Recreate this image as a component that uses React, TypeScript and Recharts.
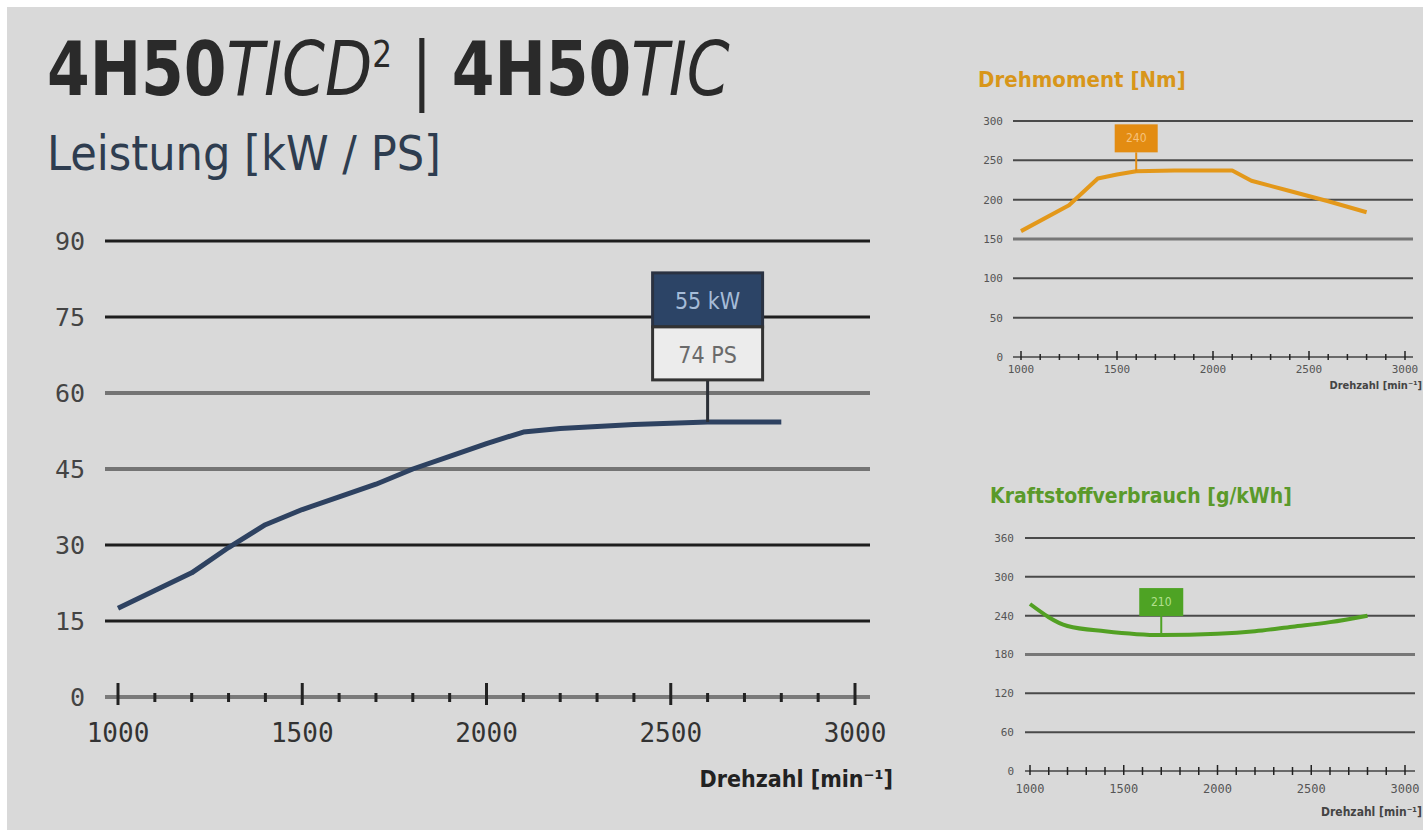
import React from "react";
import { LineChart, Line, XAxis, YAxis, ReferenceLine, ReferenceDot } from "recharts";

// shared rpm axis (minor every 100, labels every 500)
const rpmTicks = [
  1000, 1100, 1200, 1300, 1400, 1500, 1600, 1700, 1800, 1900, 2000,
  2100, 2200, 2300, 2400, 2500, 2600, 2700, 2800, 2900, 3000,
];

// Leistung
const powerRpm = [1000, 1100, 1200, 1300, 1400, 1500, 1600, 1700, 1800, 1900, 2000, 2100, 2200, 2400, 2600, 2800];
const powerKw = [17.5, 21, 24.5, 29.5, 34, 37, 39.5, 42, 45, 47.5, 50, 52.3, 53, 53.8, 54.3, 54.3];
const kwTicks = [0, 15, 30, 45, 60, 75, 90];
const psTicks = [0, 20, 40, 60, 80, 100, 120];
const powerPeakRpm = 2600;
const powerPeakLabels = ["55 kW", "74 PS"];

// Drehmoment
const torqueRpm = [1000, 1250, 1400, 1500, 1600, 1800, 2000, 2100, 2200, 2400, 2600, 2800];
const torqueNm = [160, 193, 227, 232, 236, 237, 237, 237, 224, 211, 198, 184];
const nmTicks = [0, 50, 100, 150, 200, 250, 300];
const torquePeakRpm = 1600;
const torquePeakLabel = "240";

// Kraftstoffverbrauch
const fuelRpm = [1000, 1200, 1400, 1700, 2000, 2200, 2400, 2600, 2800];
const fuelGkwh = [258, 224, 216, 210, 212, 216, 223, 230, 240];
const gkwhTicks = [0, 60, 120, 180, 240, 300, 360];
const fuelPeakRpm = 1700;
const fuelPeakLabel = "210";

const MONO = "'DejaVu Sans Mono', monospace";
const COND = "'DejaVu Sans Condensed', 'DejaVu Sans', sans-serif";

const powerData = powerRpm.map((rpm, i) => ({ rpm, kw: powerKw[i] }));
const torqueData = torqueRpm.map((rpm, i) => ({ rpm, nm: torqueNm[i] }));
const fuelData = fuelRpm.map((rpm, i) => ({ rpm, g: fuelGkwh[i] }));

type TickOpts = {
  majorUp: number;
  majorDown: number;
  minorUp: number;
  minorDown: number;
  width: number;
  labelDy: number;
  fontSize: number;
  color: string;
};

const makeRpmTick = (o: TickOpts) => (props: any) => {
  const { x, y, payload } = props;
  const major = payload.value % 500 === 0;
  return (
    <g>
      <line
        x1={x}
        x2={x}
        y1={y - (major ? o.majorUp : o.minorUp)}
        y2={y + (major ? o.majorDown : o.minorDown)}
        stroke="#222"
        strokeWidth={o.width}
      />
      {major && (
        <text x={x} y={y + o.labelDy} textAnchor="middle" fontSize={o.fontSize} fontFamily={MONO} fill={o.color}>
          {payload.value}
        </text>
      )}
    </g>
  );
};

const smallFlag = (label: string, fill: string, textFill: string, w: number) => (props: any) => {
  const { cx, cy } = props;
  return (
    <g>
      <line x1={cx} x2={cx} y1={cy - 19} y2={cy} stroke={fill} strokeWidth={2} />
      <rect x={cx - w / 2} y={cy - 47} width={w} height={28} fill={fill} />
      <text x={cx} y={cy - 29} textAnchor="middle" fontSize={12} fontFamily={COND} fill={textFill}>
        {label}
      </text>
    </g>
  );
};

const powerFlag = (props: any) => {
  const { cx, cy } = props;
  return (
    <g>
      <line x1={cx} x2={cx} y1={cy - 42} y2={cy} stroke="#2b2f36" strokeWidth={3} />
      <rect x={cx - 55} y={cy - 149} width={110} height={54} fill="#2c4466" stroke="#2a3242" strokeWidth={3} />
      <rect x={cx - 55} y={cy - 95} width={110} height={53} fill="#ececec" stroke="#333" strokeWidth={3} />
      <text x={cx} y={cy - 113} textAnchor="middle" fontSize={23} fontFamily={COND} fill="#a6bcd8">
        {powerPeakLabels[0]}
      </text>
      <text x={cx} y={cy - 59} textAnchor="middle" fontSize={23} fontFamily={COND} fill="#6a6a6a">
        {powerPeakLabels[1]}
      </text>
    </g>
  );
};

function PowerChart() {
  const peakKw = powerKw[powerRpm.indexOf(powerPeakRpm)];
  return (
    <LineChart width={952} height={600} data={powerData} margin={{ top: 41, right: 0, bottom: 0, left: 0 }}>
      <XAxis
        dataKey="rpm"
        type="number"
        domain={[1000, 3000]}
        ticks={rpmTicks}
        interval={0}
        padding={{ left: 13, right: 15 }}
        height={103}
        tickSize={0}
        tickMargin={0}
        tickLine={false}
        axisLine={{ stroke: "#7a7a7a", strokeWidth: 4 }}
        tick={makeRpmTick({ majorUp: 14, majorDown: 8, minorUp: 4, minorDown: 5, width: 3, labelDy: 45, fontSize: 26, color: "#333" })}
      />
      <YAxis
        yAxisId="kw"
        domain={[0, 90]}
        ticks={kwTicks}
        interval={0}
        width={97}
        tickSize={0}
        tickMargin={20}
        tickLine={false}
        axisLine={false}
        tick={{ fontSize: 25, fontFamily: MONO, fill: "#444" }}
      />
      <YAxis
        yAxisId="ps"
        orientation="right"
        domain={[0, 120]}
        ticks={psTicks}
        interval={0}
        width={90}
        tickSize={0}
        tickMargin={17}
        tickLine={false}
        axisLine={false}
        tick={{ fontSize: 25, fontFamily: MONO, fill: "#444" }}
      />
      {kwTicks
        .filter((v) => v > 0)
        .map((v) => (
          <ReferenceLine
            key={v}
            yAxisId="kw"
            y={v}
            stroke={v === 45 || v === 60 ? "#747474" : "#1e1e1e"}
            strokeWidth={v === 45 || v === 60 ? 4 : 3}
          />
        ))}
      <Line
        yAxisId="kw"
        dataKey="kw"
        type="linear"
        stroke="#2e4261"
        strokeWidth={5}
        strokeLinejoin="round"
        dot={false}
        isAnimationActive={false}
      />
      <ReferenceDot yAxisId="kw" x={powerPeakRpm} y={peakKw} shape={powerFlag} ifOverflow="visible" />
    </LineChart>
  );
}

function TorqueChart() {
  const peak = torqueNm[torqueRpm.indexOf(torquePeakRpm)];
  return (
    <LineChart width={463} height={300} data={torqueData} margin={{ top: 21, right: 10, bottom: 0, left: 0 }}>
      <XAxis
        dataKey="rpm"
        type="number"
        domain={[1000, 3000]}
        ticks={rpmTicks}
        interval={0}
        padding={{ left: 8, right: 8 }}
        height={43}
        tickSize={0}
        tickMargin={0}
        tickLine={false}
        axisLine={{ stroke: "#6a6a6a", strokeWidth: 2 }}
        tick={makeRpmTick({ majorUp: 6, majorDown: 3, minorUp: 3, minorDown: 3, width: 1.5, labelDy: 16, fontSize: 11, color: "#555" })}
      />
      <YAxis
        yAxisId="nm"
        domain={[0, 300]}
        ticks={nmTicks}
        interval={0}
        width={53}
        tickSize={0}
        tickMargin={10}
        tickLine={false}
        axisLine={false}
        tick={{ fontSize: 11, fontFamily: MONO, fill: "#555" }}
      />
      {nmTicks
        .filter((v) => v > 0)
        .map((v) => (
          <ReferenceLine key={v} yAxisId="nm" y={v} stroke={v === 150 ? "#777" : "#4a4a4a"} strokeWidth={v === 150 ? 3 : 2} />
        ))}
      <Line
        yAxisId="nm"
        dataKey="nm"
        type="linear"
        stroke="#e3981a"
        strokeWidth={4}
        strokeLinejoin="round"
        dot={false}
        isAnimationActive={false}
      />
      <ReferenceDot
        yAxisId="nm"
        x={torquePeakRpm}
        y={peak}
        shape={smallFlag(torquePeakLabel, "#e38c12", "#f6c27c", 43)}
        ifOverflow="visible"
      />
    </LineChart>
  );
}

function FuelChart() {
  const peak = fuelGkwh[fuelRpm.indexOf(fuelPeakRpm)];
  return (
    <LineChart width={463} height={316} data={fuelData} margin={{ top: 28, right: 8, bottom: 0, left: 0 }}>
      <XAxis
        dataKey="rpm"
        type="number"
        domain={[1000, 3000]}
        ticks={rpmTicks}
        interval={0}
        padding={{ left: 5, right: 10 }}
        height={55}
        tickSize={0}
        tickMargin={0}
        tickLine={false}
        axisLine={{ stroke: "#6a6a6a", strokeWidth: 2 }}
        tick={makeRpmTick({ majorUp: 6, majorDown: 4, minorUp: 4, minorDown: 4, width: 1.5, labelDy: 22, fontSize: 12, color: "#555" })}
      />
      <YAxis
        yAxisId="g"
        domain={[0, 360]}
        ticks={gkwhTicks}
        interval={0}
        width={65}
        tickSize={0}
        tickMargin={11}
        tickLine={false}
        axisLine={false}
        tick={{ fontSize: 11, fontFamily: MONO, fill: "#555" }}
      />
      {gkwhTicks
        .filter((v) => v > 0)
        .map((v) => (
          <ReferenceLine key={v} yAxisId="g" y={v} stroke={v === 180 ? "#777" : "#4a4a4a"} strokeWidth={v === 180 ? 3 : 2} />
        ))}
      <Line
        yAxisId="g"
        dataKey="g"
        type="monotone"
        stroke="#52a023"
        strokeWidth={4}
        strokeLinejoin="round"
        dot={false}
        isAnimationActive={false}
      />
      <ReferenceDot
        yAxisId="g"
        x={fuelPeakRpm}
        y={peak}
        shape={smallFlag(fuelPeakLabel, "#4ea324", "#b2e08e", 44)}
        ifOverflow="visible"
      />
    </LineChart>
  );
}

export default function App() {
  // absolute at page origin so the 1423px-wide sheet does not overflow the body margin
  return (
    <div style={{ position: "absolute", left: 0, top: 0, width: 1423, height: 836, overflow: "hidden", background: "#fff" }}>
      <div style={{ position: "absolute", left: 7, top: 7, width: 1416, height: 823, background: "#d9d9d9" }} />
      <div style={{ position: "absolute", left: 8, top: 200 }}>
        <PowerChart />
      </div>
      <div style={{ position: "absolute", left: 960, top: 100 }}>
        <TorqueChart />
      </div>
      <div style={{ position: "absolute", left: 960, top: 510 }}>
        <FuelChart />
      </div>
      <svg width={1423} height={836} style={{ position: "absolute", left: 0, top: 0, pointerEvents: "none" }}>
        <text transform="translate(47,95) scale(0.91,1)" fontSize={75} fontFamily={COND} fill="#2a2a2a">
          <tspan fontWeight="bold">4H50</tspan>
          <tspan fontStyle="italic">TICD</tspan>
          <tspan fontSize={38} dy={-28}>2</tspan>
          <tspan dy={28}> | </tspan>
          <tspan fontWeight="bold">4H50</tspan>
          <tspan fontStyle="italic">TIC</tspan>
        </text>
        <text x={47} y={170} fontSize={48} fontFamily={COND} fill="#2e3d50">
          Leistung [kW / PS]
        </text>
        <text x={893} y={787} textAnchor="end" fontSize={23} fontWeight="bold" fontFamily={COND} fill="#222">
          Drehzahl [min⁻¹]
        </text>
        <text x={978} y={87} fontSize={22} fontWeight="bold" fontFamily={COND} fill="#d8961a">
          Drehmoment [Nm]
        </text>
        <text x={1422} y={389} textAnchor="end" fontSize={11} fontWeight="bold" fontFamily={COND} fill="#444">
          Drehzahl [min⁻¹]
        </text>
        <text x={990} y={503} fontSize={21} fontWeight="bold" fontFamily={COND} fill="#5a9a2a">
          Kraftstoffverbrauch [g/kWh]
        </text>
        <text x={1422} y={816} textAnchor="end" fontSize={12} fontWeight="bold" fontFamily={COND} fill="#444">
          Drehzahl [min⁻¹]
        </text>
      </svg>
    </div>
  );
}
